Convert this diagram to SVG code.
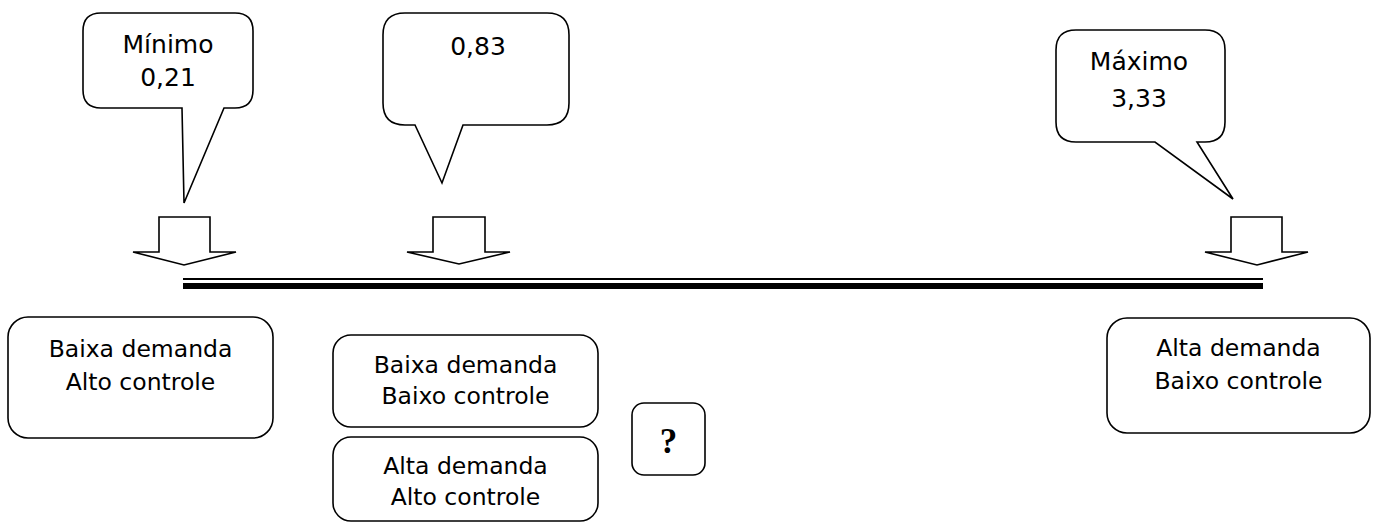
<svg xmlns="http://www.w3.org/2000/svg" width="1375" height="524" viewBox="0 0 1375 524">
  <style>
    .shape { fill: #ffffff; stroke: #000000; stroke-width: 1.6; stroke-linejoin: miter; }
    .label { font-family: "DejaVu Sans", "Liberation Sans", sans-serif; font-size: 23.5px; fill: #000000; text-anchor: middle; }
    .callout-text { font-family: "DejaVu Sans", "Liberation Sans", sans-serif; font-size: 25px; fill: #000000; text-anchor: middle; }
    .mark { font-family: "Liberation Serif", "DejaVu Serif", serif; font-size: 35px; font-weight: bold; fill: #000000; text-anchor: middle; }
  </style>
  <rect x="0" y="0" width="1375" height="524" fill="#ffffff"/>

  <!-- callouts -->
  <g id="callout-min">
    <path class="shape" d="M101,13 H235 Q253,13 253,31 V90 Q253,108 235,108 H224 L184,203 L182,108 H101 Q83,108 83,90 V31 Q83,13 101,13 Z"/>
    <text class="callout-text" x="168" y="53">Mínimo</text>
    <text class="callout-text" x="168" y="86">0,21</text>
  </g>
  <g id="callout-mid">
    <path class="shape" d="M405,13 H547 Q569,13 569,35 V103 Q569,125 547,125 H463 L442,183 L415,125 H405 Q383,125 383,103 V35 Q383,13 405,13 Z"/>
    <text class="callout-text" x="478" y="55">0,83</text>
  </g>
  <g id="callout-max">
    <path class="shape" d="M1076,30 H1205 Q1225,30 1225,50 V122 Q1225,142 1205,142 H1197 L1233,199 L1155,142 H1076 Q1056,142 1056,122 V50 Q1056,30 1076,30 Z"/>
    <text class="callout-text" x="1139" y="70">Máximo</text>
    <text class="callout-text" x="1139" y="107">3,33</text>
  </g>

  <!-- block arrows and the scale line -->
  <g id="connectors">
    <polygon class="shape" points="159,217 210,217 210,252 236,252 184,265 133,252 159,252"/>
    <polygon class="shape" points="433,217 485,217 485,252 510,252 459,264 407,252 433,252"/>
    <polygon class="shape" points="1231,217 1282,217 1282,252 1308,252 1257,265 1205,252 1231,252"/>
    <line x1="183" y1="279" x2="1263" y2="279" stroke="#000000" stroke-width="1.8"/>
    <rect x="183" y="283" width="1080" height="6" fill="#000000"/>
  </g>

  <!-- category boxes -->
  <g id="box-low-demand-high-control">
    <rect class="shape" x="8" y="317" width="265" height="121" rx="20" ry="20"/>
    <text class="label" x="140.5" y="357">Baixa demanda</text>
    <text class="label" x="140.5" y="390">Alto controle</text>
  </g>
  <g id="box-low-demand-low-control">
    <rect class="shape" x="333" y="335" width="265" height="92" rx="18" ry="18"/>
    <text class="label" x="465.5" y="373">Baixa demanda</text>
    <text class="label" x="465.5" y="404">Baixo controle</text>
  </g>
  <g id="box-high-demand-high-control">
    <rect class="shape" x="333" y="437" width="265" height="84" rx="18" ry="18"/>
    <text class="label" x="465.5" y="474">Alta demanda</text>
    <text class="label" x="465.5" y="505">Alto controle</text>
  </g>
  <g id="box-unknown">
    <rect class="shape" x="632" y="403" width="73" height="72" rx="12" ry="12"/>
    <text class="mark" x="668.5" y="453">?</text>
  </g>
  <g id="box-high-demand-low-control">
    <rect class="shape" x="1107" y="318" width="263" height="115" rx="20" ry="20"/>
    <text class="label" x="1238.5" y="356">Alta demanda</text>
    <text class="label" x="1238.5" y="389">Baixo controle</text>
  </g>
</svg>
